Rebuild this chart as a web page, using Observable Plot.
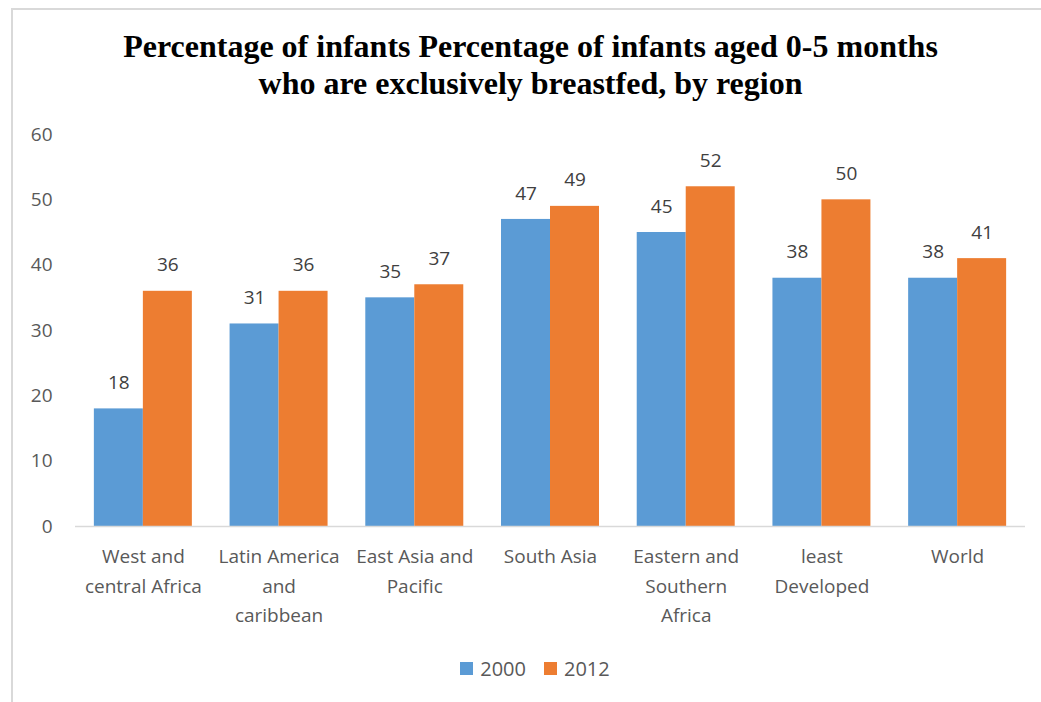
<!DOCTYPE html>
<html>
<head>
<meta charset="utf-8">
<script src="https://cdn.jsdelivr.net/npm/d3@7"></script>
<script src="https://cdn.jsdelivr.net/npm/@observablehq/plot@0.6"></script>
<style>
  html, body { margin: 0; padding: 0; background: #fff; width: 1041px; height: 702px; overflow: hidden; }
  #frame { position: absolute; left: 11px; top: 8px; width: 1100px; height: 760px; border-top: 2px solid #d9d9d9; border-left: 2px solid #d9d9d9; }
  #title { position: absolute; left: 11px; width: 1039px; top: 28px; text-align: center; font-family: "Liberation Serif", "Times New Roman", serif; font-weight: bold; font-size: 32px; line-height: 37px; color: #000; }
  #chart { position: absolute; left: 0; top: 110px; }
  #legend { position: absolute; left: 0; width: 1070px; top: 655px; display: flex; justify-content: center; gap: 18px; font-family: "Open Sans", "Liberation Sans", sans-serif; font-size: 20px; color: #595959; }
  .item { display: flex; align-items: center; gap: 7px; }
  .sw { width: 13px; height: 13px; display: inline-block; }
</style>
</head>
<body>
<div id="frame"></div>
<div id="title">Percentage of infants Percentage of infants aged 0-5 months<br>who are exclusively breastfed, by region</div>
<div id="chart"></div>
<div id="legend"></div>
<script>
const regions = ["West and central Africa", "Latin America and caribbean", "East Asia and Pacific", "South Asia", "Eastern and Southern Africa", "least Developed", "World"];
const regionLabels = ["West and\ncentral Africa", "Latin America\nand\ncaribbean", "East Asia and\nPacific", "South Asia", "Eastern and\nSouthern\nAfrica", "least\nDeveloped", "World"];
const years = ["2000", "2012"];
const values2000 = [18, 31, 35, 47, 45, 38, 38];
const values2012 = [36, 36, 37, 49, 52, 50, 41];
const yTicks = [0, 10, 20, 30, 40, 50, 60];
const colors = ["#5B9BD5", "#ED7D31"];

const d2000 = regions.map((r, i) => ({region: r, year: "2000", value: values2000[i]}));
const d2012 = regions.map((r, i) => ({region: r, year: "2012", value: values2012[i]}));
const labelOf = new Map(regions.map((r, i) => [r, regionLabels[i]]));

const font = '"Open Sans", "Liberation Sans", sans-serif';
const half = 49;

const chart = Plot.plot({
  width: 1041,
  height: 530,
  marginLeft: 75,
  marginRight: 16,
  marginTop: 24,
  marginBottom: 114,
  style: {fontFamily: font, fontSize: "19px", background: "transparent"},
  x: {domain: regions, paddingInner: 0.278, paddingOuter: 0.139, round: false, label: null},
  y: {domain: [0, 60], label: null},
  color: {domain: years, range: colors},
  marks: [
    Plot.barY(d2000, {x: "region", y: "value", fill: "year", insetRight: half}),
    Plot.barY(d2012, {x: "region", y: "value", fill: "year", insetLeft: half}),
    Plot.ruleY([0], {stroke: "#d9d9d9", strokeWidth: 1.5}),
    Plot.text(d2000, {x: "region", y: "value", text: "value", dx: -half / 2, dy: -26, fill: "#404040", fontSize: 19}),
    Plot.text(d2012, {x: "region", y: "value", text: "value", dx: half / 2, dy: -26, fill: "#404040", fontSize: 19}),
    Plot.axisY(yTicks, {tickSize: 0, tickPadding: 23, fill: "#595959", fontSize: 19, label: null}),
    Plot.axisX({tickSize: 0, tickPadding: 16, fill: "#595959", fontSize: 19, lineHeight: 1.55, tickFormat: d => labelOf.get(d), label: null})
  ]
});
document.getElementById("chart").appendChild(chart);

const legend = document.getElementById("legend");
years.forEach((y, i) => {
  const item = document.createElement("div");
  item.className = "item";
  item.innerHTML = `<span class="sw" style="background:${colors[i]}"></span><span>${y}</span>`;
  legend.appendChild(item);
});
</script>
</body>
</html>
